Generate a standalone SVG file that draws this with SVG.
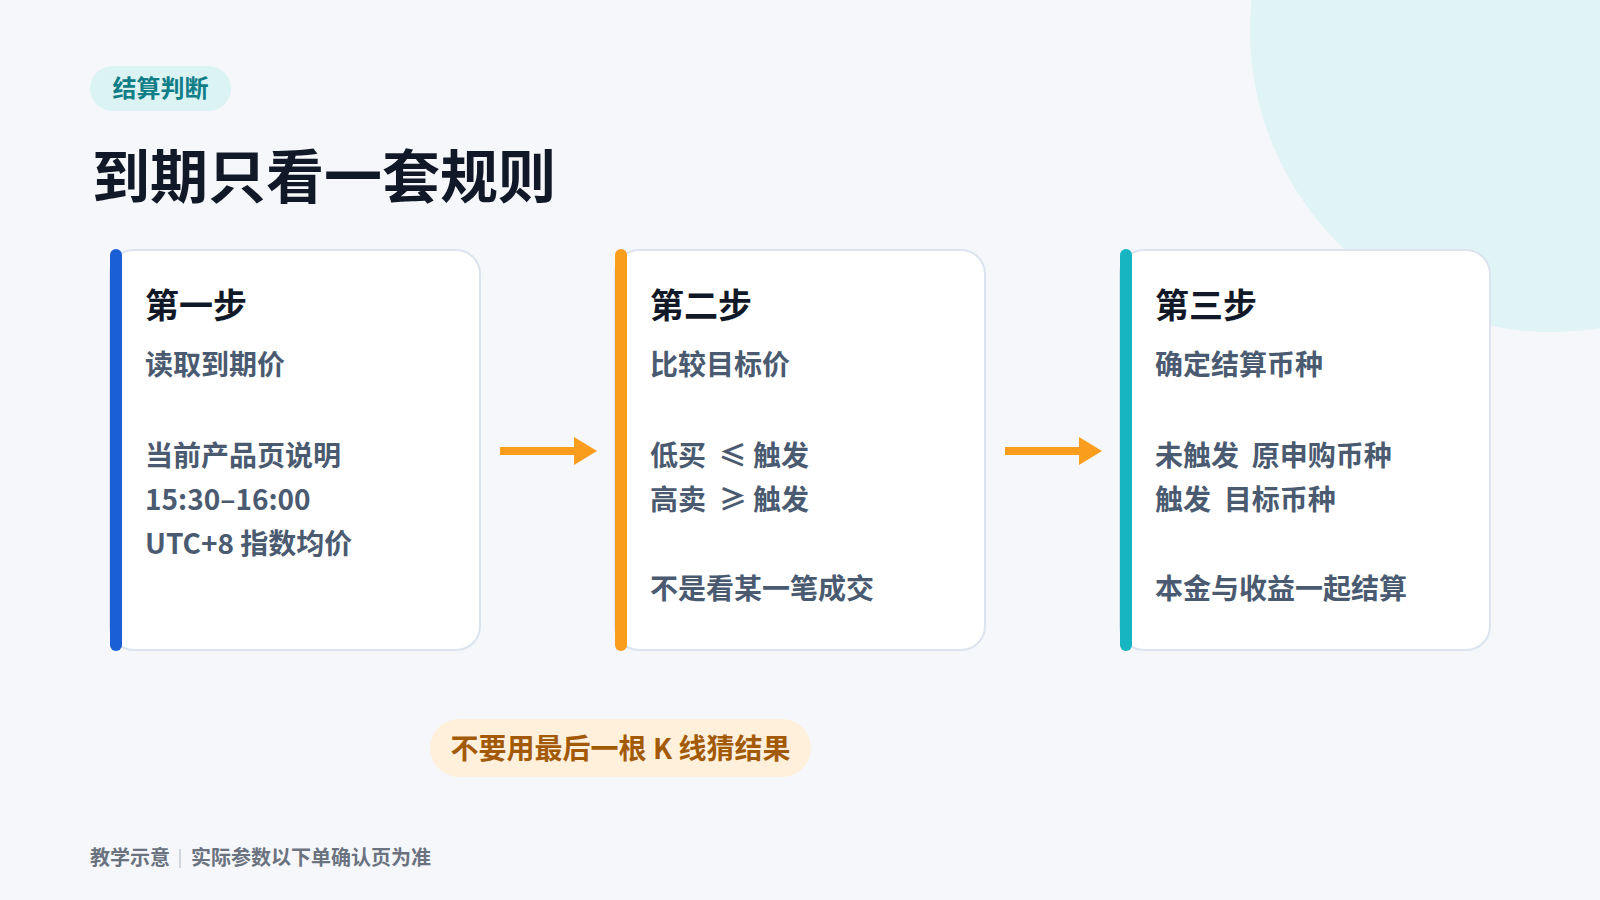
<svg xmlns="http://www.w3.org/2000/svg" width="1600" height="900" viewBox="0 0 1600 900">
<style>
.cjk{font-family:"Noto Sans CJK SC","Noto Sans",sans-serif;}
.card{fill:#ffffff;stroke:#dbe3ee;stroke-width:2;}
.ttl{font-size:34px;font-weight:700;fill:#111827;}
.body{font-size:28px;font-weight:700;fill:#4a5a70;}
.arrow{stroke:#fa9d1c;stroke-width:8;fill:none;}
.head{fill:#fa9d1c;}
</style>
<rect x="0" y="0" width="1600" height="900" fill="#f5f7fa"/>
<circle cx="1552" cy="30" r="302" fill="#e0f4f6"/>

<g id="tag">
<rect x="90" y="66" width="141" height="45" rx="22.5" fill="#dcf3f4"/>
<text class="cjk" x="160.5" y="97" text-anchor="middle" font-size="24" font-weight="700" fill="#0f7e87">结算判断</text>
</g>
<g id="title">
<text class="cjk" x="92" y="198" font-size="58" font-weight="700" fill="#111827">到期只看一套规则</text>
</g>

<g id="step1">
<rect class="card" x="110" y="250" width="370" height="400" rx="24"/>
<rect x="110" y="249" width="12" height="402" rx="6" fill="#1a5fd6"/>
<text class="cjk ttl" x="145" y="318">第一步</text>
<text class="cjk body" x="145" y="375">读取到期价</text>
<text class="cjk body" x="145" y="466">当前产品页说明</text>
<text class="cjk body" x="145" y="510">15:30–16:00</text>
<text class="cjk body" x="145" y="554">UTC+8 指数均价</text>
</g>

<g id="step2">
<rect class="card" x="615" y="250" width="370" height="400" rx="24"/>
<rect x="615" y="249" width="12" height="402" rx="6" fill="#fa9d1c"/>
<text class="cjk ttl" x="650" y="318">第二步</text>
<text class="cjk body" x="650" y="375">比较目标价</text>
<text class="cjk body" x="650" y="466" xml:space="preserve">低买  ≤ 触发</text>
<text class="cjk body" x="650" y="510" xml:space="preserve">高卖  ≥ 触发</text>
<text class="cjk body" x="650" y="599">不是看某一笔成交</text>
</g>

<g id="step3">
<rect class="card" x="1120" y="250" width="370" height="400" rx="24"/>
<rect x="1120" y="249" width="12" height="402" rx="6" fill="#16b5c1"/>
<text class="cjk ttl" x="1155" y="318">第三步</text>
<text class="cjk body" x="1155" y="375">确定结算币种</text>
<text class="cjk body" x="1155" y="466" xml:space="preserve">未触发  原申购币种</text>
<text class="cjk body" x="1155" y="510" xml:space="preserve">触发  目标币种</text>
<text class="cjk body" x="1155" y="599">本金与收益一起结算</text>
</g>

<g id="connectors">
<line class="arrow" x1="500" y1="451" x2="590" y2="451"/>
<polygon class="head" points="574,437 597,451 574,465"/>
<line class="arrow" x1="1005" y1="451" x2="1095" y2="451"/>
<polygon class="head" points="1079,437 1102,451 1079,465"/>
</g>

<g id="warning">
<rect x="430" y="719" width="381" height="58" rx="29" fill="#fff0dc"/>
<text class="cjk" x="620.5" y="759" text-anchor="middle" font-size="28" font-weight="700" fill="#a35a06">不要用最后一根 K 线猜结果</text>
</g>

<g id="footer">
<text class="cjk" x="90" y="865" font-size="20" font-weight="700" fill="#6b7280">教学示意</text>
<line x1="180" y1="849" x2="180" y2="868" stroke="#c3cad5" stroke-width="1.5"/>
<text class="cjk" x="191" y="865" font-size="20" font-weight="700" fill="#6b7280">实际参数以下单确认页为准</text>
</g>
</svg>
